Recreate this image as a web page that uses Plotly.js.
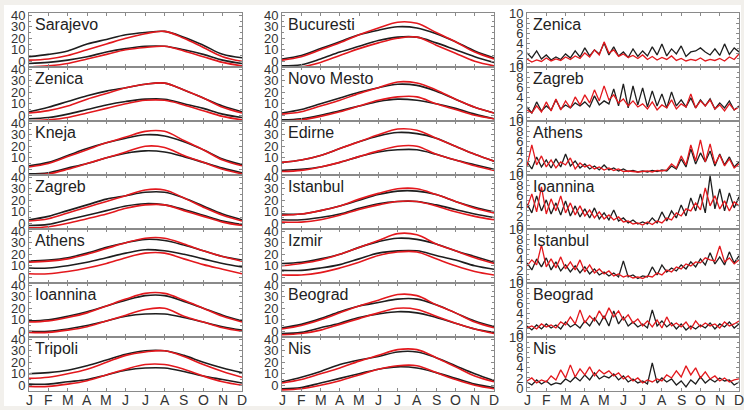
<!DOCTYPE html>
<html>
<head>
<meta charset="utf-8">
<script src="https://cdn.plot.ly/plotly-3.0.1.min.js"></script>
<style>
html,body{margin:0;padding:0;background:#f2f0ec;}
#chart{width:744px;height:410px;}
</style>
</head>
<body>
<div id="chart"></div>
<script>
// ---------- DATA ----------
const monthLabels = ['J','F','M','A','M','J','J','A','S','O','N','D'];
const tempTicks = [0, 10, 20, 30, 40];
const precTicks = [0, 2, 4, 6, 8, 10];

// Temperature panels (°C), one value per month label J..D
const sarajevoBlackHi = [4, 6, 9, 15, 19, 23, 25, 26, 21, 14, 6, 3];
const sarajevoRedHi   = [1, 2, 5, 10, 15, 20, 24, 26, 20, 12, 4, 0];
const sarajevoBlackLo = [-2, -1, 1, 4, 8, 11, 13, 13, 10, 6, 1, -2];
const sarajevoRedLo   = [-5, -4, -2, 2, 6, 10, 12, 13, 9, 4, -1, -4];

const zenicaBlackHi = [3, 7, 12, 17, 21, 24, 27, 28, 22, 15, 8, 3];
const zenicaRedHi   = [2, 4, 8, 14, 19, 24, 27, 28, 22, 15, 7, 2];
const zenicaBlackLo = [-3, -2, 1, 5, 9, 12, 14, 14, 10, 6, 1, -2];
const zenicaRedLo   = [-5, -4, -2, 2, 6, 10, 13, 13, 9, 4, -1, -4];

const knejaBlackHi = [3, 6, 12, 18, 23, 27, 30, 29, 24, 17, 9, 4];
const knejaRedHi   = [2, 5, 11, 17, 23, 28, 33, 33, 25, 17, 8, 3];
const knejaBlackLo = [-4, -3, 1, 5, 10, 14, 16, 15, 11, 6, 1, -3];
const knejaRedLo   = [-5, -4, 0, 5, 10, 15, 20, 19, 12, 6, 0, -4];

const zagrebBlackHi = [3, 6, 11, 16, 21, 24, 27, 27, 22, 15, 8, 3];
const zagrebRedHi   = [2, 4, 9, 14, 19, 24, 29, 29, 22, 14, 7, 2];
const zagrebBlackLo = [-2, -1, 3, 7, 11, 15, 17, 16, 12, 7, 2, -1];
const zagrebRedLo   = [-4, -3, 0, 4, 8, 13, 16, 16, 11, 6, 1, -2];

const athensBlackHi = [14, 15, 17, 21, 26, 30, 33, 32, 28, 23, 18, 15];
const athensRedHi   = [13, 14, 16, 20, 25, 30, 34, 34, 29, 23, 18, 14];
const athensBlackLo = [8, 8, 10, 13, 17, 21, 24, 23, 20, 16, 12, 9];
const athensRedLo   = [3, 3, 5, 8, 12, 17, 21, 21, 16, 11, 7, 3];

const ioanninaBlackHi = [9, 10, 13, 17, 22, 27, 31, 31, 26, 20, 14, 9];
const ioanninaRedHi   = [8, 9, 12, 16, 22, 28, 33, 33, 27, 20, 13, 8];
const ioanninaBlackLo = [0, 0, 2, 5, 9, 13, 15, 15, 12, 8, 4, 1];
const ioanninaRedLo   = [-1, -1, 1, 4, 9, 14, 19, 20, 13, 8, 3, 0];

const tripoliBlackHi = [10, 11, 13, 17, 22, 27, 30, 30, 26, 20, 15, 11];
const tripoliRedHi   = [6, 7, 10, 14, 20, 26, 29, 30, 25, 18, 12, 7];
const tripoliBlackLo = [1, 1, 3, 5, 9, 13, 15, 15, 12, 8, 5, 2];
const tripoliRedLo   = [-1, -1, 1, 4, 9, 14, 18, 18, 14, 8, 3, 0];

const bucurestiBlackHi = [2, 5, 11, 17, 23, 27, 30, 29, 24, 17, 9, 3];
const bucurestiRedHi   = [1, 4, 10, 16, 23, 29, 34, 33, 25, 17, 8, 2];
const bucurestiBlackLo = [-4, -3, 2, 8, 13, 18, 21, 21, 16, 10, 4, -1];
const bucurestiRedLo   = [-6, -5, -1, 5, 11, 16, 20, 21, 14, 7, 0, -4];

const novoMestoBlackHi = [2, 5, 10, 15, 20, 24, 27, 26, 21, 14, 7, 2];
const novoMestoRedHi   = [1, 3, 8, 13, 19, 24, 29, 28, 22, 14, 7, 2];
const novoMestoBlackLo = [-4, -3, 0, 4, 8, 12, 14, 13, 10, 6, 1, -3];
const novoMestoRedLo   = [-5, -4, -1, 3, 8, 13, 16, 16, 10, 5, 0, -3];

const edirneBlackHi = [6, 8, 12, 18, 24, 29, 32, 31, 27, 20, 13, 7];
const edirneRedHi   = [6, 8, 12, 18, 24, 30, 35, 34, 27, 20, 13, 7];
const edirneBlackLo = [-1, 0, 2, 6, 11, 15, 17, 17, 13, 8, 4, 0];
const edirneRedLo   = [-2, -1, 2, 6, 11, 16, 20, 20, 13, 8, 3, -1];

const istanbulBlackHi = [8, 8, 11, 15, 20, 25, 28, 28, 25, 19, 14, 10];
const istanbulRedHi   = [7, 8, 11, 15, 21, 26, 30, 30, 25, 19, 13, 9];
const istanbulBlackLo = [3, 3, 5, 8, 13, 17, 19, 19, 16, 12, 8, 5];
const istanbulRedLo   = [1, 1, 3, 7, 12, 16, 19, 19, 15, 10, 6, 3];

const izmirBlackHi = [12, 13, 16, 20, 26, 31, 34, 33, 29, 23, 18, 13];
const izmirRedHi   = [10, 12, 15, 20, 26, 32, 38, 37, 29, 23, 17, 12];
const izmirBlackLo = [6, 6, 8, 11, 16, 21, 23, 23, 19, 15, 10, 7];
const izmirRedLo   = [2, 2, 4, 8, 13, 19, 22, 22, 16, 10, 5, 2];

const beogradBlackHi = [3, 6, 11, 17, 22, 25, 28, 28, 23, 16, 9, 4];
const beogradRedHi   = [2, 5, 10, 16, 22, 27, 32, 31, 23, 16, 8, 3];
const beogradBlackLo = [-2, -1, 3, 7, 12, 15, 17, 16, 12, 7, 2, -1];
const beogradRedLo   = [-3, -2, 1, 6, 11, 16, 20, 19, 13, 7, 2, -2];

const nisBlackHi = [3, 7, 12, 18, 22, 25, 29, 29, 24, 17, 10, 4];
const nisRedHi   = [2, 5, 10, 15, 21, 26, 31, 31, 24, 16, 8, 3];
const nisBlackLo = [-3, -2, 2, 6, 10, 14, 16, 15, 11, 6, 1, -2];
const nisRedLo   = [-4, -3, 0, 4, 9, 14, 17, 17, 11, 5, 0, -3];

// Precipitation panels (mm/day), 45 readings across the year J..D
const zenicaPrBlack = [2.2,1.2,2.6,1.0,1.8,0.8,1.4,0.9,2.0,1.2,2.6,1.4,3.2,1.6,2.8,2.0,4.2,1.8,3.4,1.6,2.4,1.3,3.0,1.5,2.6,1.6,3.4,1.8,4.0,1.6,3.0,2.0,3.6,1.5,2.4,2.6,3.2,2.4,1.8,3.0,1.7,4.0,1.9,3.2,2.4];
const zenicaPrRed   = [1.0,0.4,0.8,0.5,1.2,0.6,1.0,0.7,1.4,0.9,1.6,1.1,2.2,1.4,2.8,1.8,4.4,2.2,2.8,1.5,2.0,1.3,1.7,1.1,1.8,0.9,1.5,0.8,1.3,0.9,1.6,0.7,1.1,0.6,0.9,0.7,1.2,0.6,0.9,0.7,1.1,0.6,1.4,0.9,2.0];

const zagrebPrBlack = [2.2,1.0,3.2,1.4,2.4,1.6,3.6,1.8,2.6,2.0,3.0,2.4,3.2,2.2,4.4,2.6,3.4,2.8,5.8,2.4,6.8,2.0,6.4,2.6,6.0,2.2,5.4,2.4,4.8,2.0,5.2,2.4,3.6,2.2,4.0,2.0,3.6,2.4,3.8,1.8,3.0,2.0,3.4,1.6,2.4];
const zagrebPrRed   = [1.6,1.0,2.4,1.2,3.2,1.4,3.8,1.6,3.4,2.0,4.2,2.6,4.6,3.0,5.6,3.4,6.4,3.6,4.6,3.0,3.8,2.4,3.4,2.2,2.8,1.8,3.2,1.6,2.6,2.0,3.6,1.8,2.8,2.2,4.8,2.0,3.4,2.4,3.6,1.8,2.6,1.4,2.8,1.6,2.2];

const athensPrBlack = [2.0,0.6,3.0,1.0,2.4,0.8,2.6,1.0,3.6,1.2,2.2,0.8,1.6,0.6,1.2,0.4,1.4,0.4,0.8,0.2,0.6,0.1,0.3,0.0,0.2,0.0,0.3,0.1,0.4,0.2,1.2,0.6,2.6,1.0,4.6,1.6,3.8,2.0,4.2,1.2,3.6,1.4,3.0,1.0,2.0];
const athensPrRed   = [1.2,5.4,1.4,3.2,1.0,2.4,0.8,2.0,1.4,2.8,0.6,1.8,1.0,1.4,0.6,1.0,0.4,0.8,0.3,0.6,0.1,0.2,0.1,0.0,0.1,0.2,0.0,0.3,0.2,0.4,1.6,0.8,3.2,1.4,5.4,2.2,6.4,2.0,5.6,1.6,3.4,1.2,2.6,0.8,1.6];

const ioanninaPrBlack = [4.4,2.6,6.0,3.0,5.2,2.4,4.6,2.2,5.0,2.0,4.0,1.8,3.4,1.6,3.6,1.4,2.6,1.2,3.2,1.0,1.6,0.6,1.2,0.4,0.8,0.4,1.6,0.6,2.8,1.0,3.0,1.6,4.2,2.0,5.6,3.0,6.4,2.6,10.0,3.4,7.4,3.0,6.6,3.6,5.8];
const ioanninaPrRed   = [3.6,6.4,2.8,7.8,2.4,5.4,3.0,6.0,2.6,4.6,2.2,4.0,2.0,3.2,1.6,2.8,1.4,2.2,1.2,1.8,0.8,1.0,0.4,0.6,0.2,0.8,0.3,1.0,0.6,1.6,1.2,2.6,2.0,3.4,3.0,4.6,3.2,7.6,4.0,6.0,3.4,5.0,3.0,4.8,4.0];

const istanbulPrBlack = [3.4,2.0,4.2,2.6,4.4,2.0,3.6,1.8,3.0,1.6,2.8,1.4,2.6,1.2,2.2,1.0,1.6,0.8,1.4,0.6,3.8,0.6,1.0,0.3,0.8,0.6,2.6,1.0,3.0,1.6,2.4,1.8,3.0,2.2,3.6,2.6,4.2,3.0,5.4,3.2,4.6,3.0,5.6,3.4,4.8];
const istanbulPrRed   = [2.8,4.0,3.0,7.0,2.6,4.2,2.4,4.6,2.2,3.6,2.0,4.0,1.6,3.0,1.4,2.2,1.2,1.8,0.8,1.2,0.6,0.9,0.4,0.6,0.3,0.8,0.6,1.4,1.0,2.0,1.6,2.6,2.2,3.2,2.8,3.6,3.4,4.4,4.0,3.8,6.8,3.6,4.4,3.2,4.0];

const beogradPrBlack = [1.6,0.8,1.8,1.0,2.0,1.2,1.8,1.0,2.4,1.4,2.0,1.2,2.6,1.6,3.2,1.8,3.6,1.6,4.6,2.0,3.4,1.6,2.4,1.4,2.0,1.2,4.8,1.6,2.6,1.4,2.2,1.0,2.0,0.8,1.6,1.0,1.8,1.2,2.2,1.0,2.0,1.4,2.4,1.2,2.0];
const beogradPrRed   = [1.2,1.6,1.0,2.0,1.4,1.8,1.2,2.4,1.8,3.4,2.0,4.8,2.2,3.6,2.6,4.6,3.0,5.2,3.4,4.6,2.8,3.8,2.2,3.0,1.6,2.6,1.4,2.8,1.2,3.4,1.6,2.2,1.4,2.4,1.0,2.6,1.4,2.2,1.6,2.0,1.2,2.4,1.6,2.0,2.6];

const nisPrBlack = [1.2,0.6,1.6,0.8,1.4,0.6,1.0,0.8,1.8,1.2,2.2,1.4,2.6,1.6,3.0,1.8,2.4,2.0,2.8,1.6,2.4,1.2,1.8,1.0,1.4,0.8,5.0,1.0,2.0,1.2,1.8,0.6,1.4,0.2,1.6,0.8,2.2,1.0,1.8,1.2,2.0,1.4,1.6,0.6,1.2];
const nisPrRed   = [1.4,2.0,1.0,1.6,1.2,2.4,1.6,3.6,2.0,4.6,2.2,3.8,2.6,4.2,2.4,3.6,2.8,3.4,2.4,3.0,1.8,2.4,1.4,2.0,1.0,1.6,1.2,1.8,1.4,2.6,2.0,3.4,2.2,4.4,2.6,4.0,2.0,3.2,1.8,2.4,1.4,2.0,1.2,1.6,1.8];

// ---------- PANELS ----------
const panels = [
  // column 1
  {name:'Sarajevo',  kind:'T', s:[sarajevoBlackHi, sarajevoBlackLo, sarajevoRedHi, sarajevoRedLo]},
  {name:'Zenica',    kind:'T', s:[zenicaBlackHi, zenicaBlackLo, zenicaRedHi, zenicaRedLo]},
  {name:'Kneja',     kind:'T', s:[knejaBlackHi, knejaBlackLo, knejaRedHi, knejaRedLo]},
  {name:'Zagreb',    kind:'T', s:[zagrebBlackHi, zagrebBlackLo, zagrebRedHi, zagrebRedLo]},
  {name:'Athens',    kind:'T', s:[athensBlackHi, athensBlackLo, athensRedHi, athensRedLo]},
  {name:'Ioannina',  kind:'T', s:[ioanninaBlackHi, ioanninaBlackLo, ioanninaRedHi, ioanninaRedLo]},
  {name:'Tripoli',   kind:'T', s:[tripoliBlackHi, tripoliBlackLo, tripoliRedHi, tripoliRedLo]},
  // column 2
  {name:'Bucuresti', kind:'T', s:[bucurestiBlackHi, bucurestiBlackLo, bucurestiRedHi, bucurestiRedLo]},
  {name:'Novo Mesto',kind:'T', s:[novoMestoBlackHi, novoMestoBlackLo, novoMestoRedHi, novoMestoRedLo]},
  {name:'Edirne',    kind:'T', s:[edirneBlackHi, edirneBlackLo, edirneRedHi, edirneRedLo]},
  {name:'Istanbul',  kind:'T', s:[istanbulBlackHi, istanbulBlackLo, istanbulRedHi, istanbulRedLo]},
  {name:'Izmir',     kind:'T', s:[izmirBlackHi, izmirBlackLo, izmirRedHi, izmirRedLo]},
  {name:'Beograd',   kind:'T', s:[beogradBlackHi, beogradBlackLo, beogradRedHi, beogradRedLo]},
  {name:'Nis',       kind:'T', s:[nisBlackHi, nisBlackLo, nisRedHi, nisRedLo]},
  // column 3
  {name:'Zenica',    kind:'P', s:[zenicaPrBlack, zenicaPrRed]},
  {name:'Zagreb',    kind:'P', s:[zagrebPrBlack, zagrebPrRed]},
  {name:'Athens',    kind:'P', s:[athensPrBlack, athensPrRed]},
  {name:'Ioannina',  kind:'P', s:[ioanninaPrBlack, ioanninaPrRed]},
  {name:'Istanbul',  kind:'P', s:[istanbulPrBlack, istanbulPrRed]},
  {name:'Beograd',   kind:'P', s:[beogradPrBlack, beogradPrRed]},
  {name:'Nis',       kind:'P', s:[nisPrBlack, nisPrRed]}
];

// ---------- LAYOUT ----------
const W = 744, H = 410;
const colL = [29, 282, 527], colR = [242, 494, 739];
const top0 = 13, rowH = 54;
const BLACK = '#1e1e1e', RED = '#e3181d';
const FONT = '"Liberation Sans", Arial, Helvetica, sans-serif';
const AXC = '#8a8a8a';

const traces = [];
const layout = {
  width: W, height: H,
  margin: {l:0, r:0, t:0, b:0},
  paper_bgcolor: 'rgba(0,0,0,0)',
  plot_bgcolor: '#ffffff',
  showlegend: false,
  font: {family: FONT, color: '#333'},
  annotations: [],
  shapes: [{type:'rect', xref:'paper', yref:'paper', x0: 4/W, x1: 741/W, y0: 1-406/H, y1: 1-5/H,
            fillcolor:'#ffffff', line:{width:0}, layer:'below'}]
};

panels.forEach((p, i) => {
  const col = Math.floor(i / 7), row = i % 7;
  const n = i + 1;
  const xa = n === 1 ? 'x' : 'x' + n, ya = n === 1 ? 'y' : 'y' + n;
  const xkey = n === 1 ? 'xaxis' : 'xaxis' + n, ykey = n === 1 ? 'yaxis' : 'yaxis' + n;
  const t = top0 + row * rowH, b = t + rowH;
  layout[xkey] = {
    domain: [colL[col] / W, colR[col] / W],
    anchor: ya, range: [0, 1],
    tickmode: 'array', tickvals: monthLabels.map((_, k) => k / 11), ticktext: monthLabels,
    showticklabels: false,
    ticks: 'inside', ticklen: 3, tickcolor: AXC,
    showline: true, linecolor: AXC, linewidth: 1, mirror: 'ticks',
    showgrid: false, zeroline: false, fixedrange: true
  };
  const isT = p.kind === 'T';
  layout[ykey] = {
    domain: [1 - b / H, 1 - t / H],
    anchor: xa,
    range: isT ? [-5, 42] : [-0.6, 10.15],
    tickmode: 'array', tickvals: isT ? tempTicks : precTicks,
    tickfont: {size: 13, color: '#333'},
    ticks: 'inside', ticklen: 3, tickcolor: AXC,
    minor: isT ? {ticks:'inside', ticklen:2, dtick:5, tickcolor:AXC} : {ticks:'inside', ticklen:2, dtick:1, tickcolor:AXC},
    showline: true, linecolor: AXC, linewidth: 1, mirror: 'ticks',
    showgrid: false, zeroline: false, fixedrange: true
  };
  p.s.forEach((vals, k) => {
    const color = isT ? (k < 2 ? BLACK : RED) : (k === 0 ? BLACK : RED);
    traces.push({
      type: 'scatter', mode: 'lines', xaxis: xa, yaxis: ya,
      x: vals.map((_, j) => j / (vals.length - 1)), y: vals,
      line: {color: color, width: isT ? 1.6 : 1.3, shape: isT ? 'spline' : 'linear', smoothing: 1},
      hoverinfo: 'skip'
    });
  });
  layout.annotations.push({
    xref: 'paper', yref: 'paper', x: (colL[col] + 4) / W, y: 1 - (t + 1) / H,
    xanchor: 'left', yanchor: 'top', showarrow: false, text: p.name,
    font: {size: 16, color: '#222', family: FONT}
  });
  // month letters under the bottom panel of each column
  if (row === 6) {
    monthLabels.forEach((m, k) => {
      layout.annotations.push({
        xref: xa, yref: 'paper', x: k / 11, y: 1 - 400 / H,
        xanchor: 'center', yanchor: 'middle', showarrow: false, text: m,
        borderpad: 0, font: {size: 14, color: '#333', family: FONT}
      });
    });
  }
});

Plotly.newPlot('chart', traces, layout, {staticPlot: true, displayModeBar: false});
</script>
</body>
</html>
